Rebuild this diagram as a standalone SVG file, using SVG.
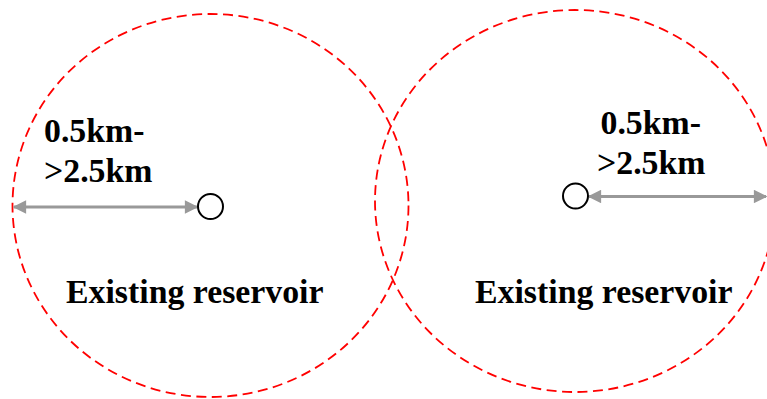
<svg xmlns="http://www.w3.org/2000/svg" width="767" height="399" viewBox="0 0 767 399">
<defs>
<style>
.zone{fill:none;stroke:#ff0000;stroke-width:1.8;stroke-dasharray:10,5.5}
.res{fill:#fff;stroke:#000;stroke-width:2}
.dim{stroke:#999;stroke-width:3;fill:none}
.t{font-family:"Liberation Serif","Times New Roman",serif;font-weight:bold;font-size:33.8px;fill:#000}
</style>
<marker id="ah" viewBox="0 0 10 10" refX="9" refY="5" markerWidth="5" markerHeight="4.5" markerUnits="strokeWidth" orient="auto-start-reverse">
<path d="M0,0 L10,5 L0,10 z" fill="#999"/>
</marker>
</defs>
<rect width="767" height="399" fill="#fff"/>
<g id="zone-left">
<ellipse class="zone" cx="210.5" cy="205.5" rx="198" ry="191.5"/>
</g>
<g id="zone-right">
<ellipse class="zone" cx="575" cy="201" rx="200" ry="191"/>
</g>
<g id="connectors">
<line class="dim" x1="14" y1="207" x2="197" y2="207" marker-start="url(#ah)" marker-end="url(#ah)"/>
<line class="dim" x1="589" y1="196.5" x2="766" y2="196.5" marker-start="url(#ah)" marker-end="url(#ah)"/>
</g>
<g id="reservoir-left">
<circle class="res" cx="210.5" cy="206.5" r="12.5"/>
<text class="t" x="66" y="302.5">Existing reservoir</text>
<text class="t" x="44" y="141.5">0.5km-</text>
<text class="t" x="44" y="181.5">&gt;2.5km</text>
</g>
<g id="reservoir-right">
<circle class="res" cx="575.5" cy="196" r="12.5"/>
<text class="t" x="475" y="302.5">Existing reservoir</text>
<text class="t" x="600.5" y="133.5">0.5km-</text>
<text class="t" x="597" y="173.5">&gt;2.5km</text>
</g>
</svg>
